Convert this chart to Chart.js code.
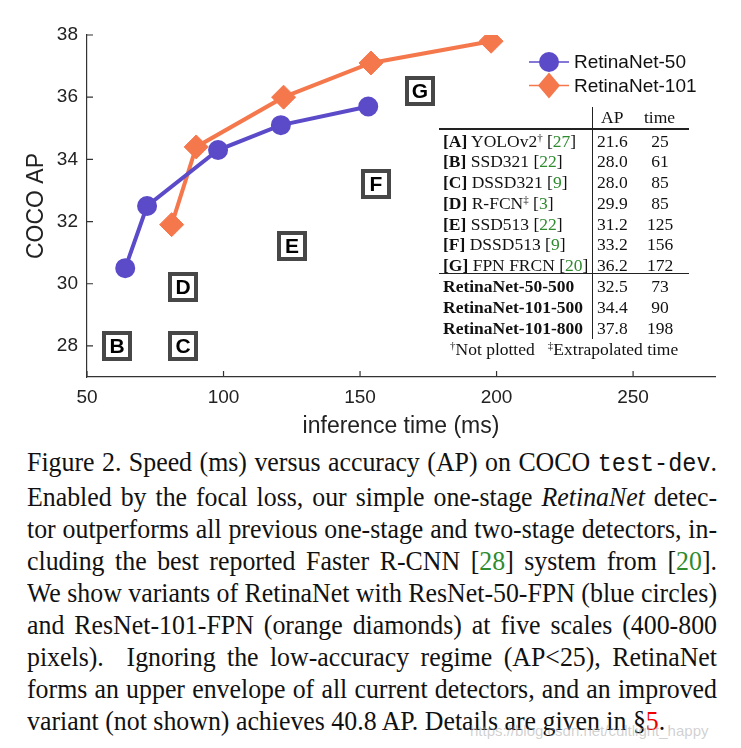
<!DOCTYPE html>
<html>
<head>
<meta charset="utf-8">
<script src="https://cdn.jsdelivr.net/npm/chart.js@4"></script>
<style>
body { margin: 0; background: #fff; width: 741px; height: 748px; overflow: hidden; position: relative; font-family: 'Liberation Serif', 'Times New Roman', serif; }
#wrap { position: absolute; left: 0; top: 0; width: 741px; height: 440px; }
.row { position: absolute; white-space: nowrap; font-size: 17.5px; line-height: 20px; color: #111; }
.ref { color: #2e8b2e; }
.vline { position: absolute; background: #222; }
#cap { position: absolute; left: 27px; top: 446px; font-size: 27.5px; line-height: 32px; color: #111; transform-origin: 0 0; }
#cap .ln { white-space: nowrap; }
#cap .just { text-align: justify; text-align-last: justify; }
#cap tt { font-family: 'Liberation Mono', monospace; font-size: 25px; }
#cap .g { color: #2e8b2e; }
#cap .r { color: #e00; }
#wm { position: absolute; left: 470px; top: 722px; font-family: 'Liberation Sans', sans-serif; font-size: 15px; color: rgba(170,170,170,0.55); }
</style>
</head>
<body>
<div id="wrap"><canvas id="myChart" width="741" height="440"></canvas></div>
<div id="tbl"></div>
<div id="cap">
  <div class="ln"><span>Figure 2. Speed (ms) versus accuracy (AP) on COCO <tt>test-dev</tt>.</span></div>
  <div class="ln"><span>Enabled by the focal loss, our simple one-stage <i>RetinaNet</i> detec-</span></div>
  <div class="ln"><span>tor outperforms all previous one-stage and two-stage detectors, in-</span></div>
  <div class="ln"><span>cluding the best reported Faster R-CNN [<span class="g">28</span>] system from [<span class="g">20</span>].</span></div>
  <div class="ln"><span>We show variants of RetinaNet with ResNet-50-FPN (blue circles)</span></div>
  <div class="ln"><span>and ResNet-101-FPN (orange diamonds) at five scales (400-800</span></div>
  <div class="ln"><span>pixels).&nbsp; Ignoring the low-accuracy regime (AP&lt;25), RetinaNet</span></div>
  <div class="ln"><span>forms an upper envelope of all current detectors, and an improved</span></div>
  <div class="ln"><span>variant (not shown) achieves 40.8 AP. Details are given in §<span class="r">5</span>.</span></div>
</div>
<div id="wm">https://blog.csdn.net/cultlight_happy</div>
<script>
// plotted series
const r50Time = [64, 72, 98, 121, 153];
const r50AP = [30.5, 32.5, 34.3, 35.1, 35.7];
const r101Time = [81, 90, 122, 154, 198];
const r101AP = [31.9, 34.4, 36.0, 37.1, 37.8];

// table of other detectors (A is not plotted)
const tableKeys = ['A', 'B', 'C', 'D', 'E', 'F', 'G'];
const tableNames = ['YOLOv2', 'SSD321', 'DSSD321', 'R-FCN', 'SSD513', 'DSSD513', 'FPN FRCN'];
const tableMarks = ['†', '', '', '‡', '', '', ''];
const tableRefs = ['27', '22', '9', '3', '22', '9', '20'];
const tableAP = [21.6, 28.0, 28.0, 29.9, 31.2, 33.2, 36.2];
const tableTime = [25, 61, 85, 85, 125, 156, 172];

const retinaNames = ['RetinaNet-50-500', 'RetinaNet-101-500', 'RetinaNet-101-800'];
const retinaAP = [32.5, 34.4, 37.8];
const retinaTime = [73, 90, 198];

const xTicks = [50, 100, 150, 200, 250];
const yTicks = [28, 30, 32, 34, 36, 38];

const blue = '#5b4bc8';
const orange = '#f5774c';

const toPts = (xs, ys) => xs.map((x, i) => ({ x: x, y: ys[i] }));
const plotted = tableKeys.map((k, i) => i).filter(i => tableMarks[i] !== '†');

// boxed letters for other detectors, inward tick marks, legend
const boxPlugin = {
    id: 'boxes',
    afterDatasetsDraw(chart) {
        const ctx = chart.ctx;
        const ds = chart.data.datasets[2];
        ctx.save();
        chart.getDatasetMeta(2).data.forEach((pt, i) => {
            const x = Math.round(pt.x), y = Math.round(pt.y);
            ctx.fillStyle = '#fff';
            ctx.fillRect(x - 15, y - 15, 30, 30);
            ctx.lineWidth = 4;
            ctx.strokeStyle = '#474747';
            ctx.strokeRect(x - 13, y - 13, 26, 26);
            ctx.fillStyle = '#000';
            ctx.font = 'bold 21px "Liberation Sans", Arial, sans-serif';
            ctx.textAlign = 'center';
            ctx.textBaseline = 'middle';
            ctx.fillText(ds.letters[i], x, y + 1);
        });
        ctx.restore();
    },
    afterDraw(chart) {
        const ctx = chart.ctx;
        const a = chart.chartArea;
        const xs = chart.scales.x, ys = chart.scales.y;
        ctx.save();
        ctx.strokeStyle = '#333';
        ctx.lineWidth = 1.2;
        ctx.beginPath();
        xTicks.forEach(v => {
            const px = xs.getPixelForValue(v);
            ctx.moveTo(px, a.bottom);
            ctx.lineTo(px, a.bottom - 6);
        });
        yTicks.forEach(v => {
            const py = ys.getPixelForValue(v);
            ctx.moveTo(a.left, py);
            ctx.lineTo(a.left + 6, py);
        });
        ctx.stroke();

        // legend with line through marker
        const lx = a.right - 186, tx = a.right - 141;
        [0, 1].forEach(i => {
            const d = chart.data.datasets[i];
            const ly = a.top + 27 + i * 23.5;
            ctx.strokeStyle = d.borderColor;
            ctx.lineWidth = 1.6;
            ctx.beginPath();
            ctx.moveTo(lx, ly);
            ctx.lineTo(lx + 40, ly);
            ctx.stroke();
            ctx.fillStyle = d.borderColor;
            ctx.beginPath();
            if (d.pointStyle === 'circle') {
                ctx.arc(lx + 20, ly, 10, 0, Math.PI * 2);
            } else {
                ctx.moveTo(lx + 20, ly - 13);
                ctx.lineTo(lx + 31, ly);
                ctx.lineTo(lx + 20, ly + 13);
                ctx.lineTo(lx + 9, ly);
                ctx.closePath();
            }
            ctx.fill();
            ctx.fillStyle = '#111';
            ctx.font = '19px "Liberation Sans", Arial, sans-serif';
            ctx.textAlign = 'left';
            ctx.textBaseline = 'middle';
            ctx.fillText(d.label, tx, ly + 1);
        });
        ctx.restore();
    }
};

const tickFont = { family: '"Liberation Sans", Arial, sans-serif', size: 19 };
const titleFont = { family: '"Liberation Sans", Arial, sans-serif', size: 23 };

const config = {
    type: 'scatter',
    data: {
        datasets: [{
            label: 'RetinaNet-50',
            data: toPts(r50Time, r50AP),
            showLine: true,
            borderColor: blue,
            backgroundColor: blue,
            borderWidth: 4,
            pointStyle: 'circle',
            pointRadius: 9,
            pointBorderWidth: 2
        }, {
            label: 'RetinaNet-101',
            data: toPts(r101Time, r101AP),
            showLine: true,
            borderColor: orange,
            backgroundColor: orange,
            borderWidth: 4,
            pointStyle: 'rectRot',
            pointRadius: 12,
            pointBorderWidth: 1
        }, {
            label: 'others',
            data: plotted.map(i => ({ x: tableTime[i], y: tableAP[i] })),
            letters: plotted.map(i => tableKeys[i]),
            pointRadius: 0,
            showLine: false
        }]
    },
    options: {
        responsive: false,
        animation: false,
        devicePixelRatio: 1,
        layout: { padding: { left: 0, right: 26, top: 35, bottom: 0 } },
        plugins: { legend: { display: false }, tooltip: { enabled: false } },
        scales: {
            x: {
                type: 'linear',
                min: 50,
                max: 280,
                grid: { display: false, drawTicks: false },
                border: { display: true, color: '#333', width: 1.2 },
                afterBuildTicks: s => { s.ticks = xTicks.map(v => ({ value: v })); },
                afterFit: s => { s.height = 63; },
                ticks: { color: '#222', font: tickFont, padding: 9, maxRotation: 0 },
                title: { display: true, text: 'inference time (ms)', color: '#222',
                    font: titleFont, padding: { top: 0, bottom: 0 } }
            },
            y: {
                min: 27,
                max: 38,
                grid: { display: false, drawTicks: false },
                border: { display: true, color: '#333', width: 1.2 },
                afterBuildTicks: s => { s.ticks = yTicks.map(v => ({ value: v })); },
                afterFit: s => { s.width = 87; },
                ticks: { color: '#222', font: tickFont, padding: 9 },
                title: { display: true, text: 'COCO AP', color: '#222',
                    font: titleFont, padding: { top: 23, bottom: 0 } }
            }
        }
    },
    plugins: [boxPlugin]
};

const myChart = new Chart(document.getElementById('myChart'), config);

// table on the right
const tbl = document.getElementById('tbl');
let html = '';
const sup = m => '<sup style="font-size:11px;vertical-align:6px;line-height:0">' + m + '</sup>';
const addRow = (left, top, content, extra) => {
    html += '<div class="row" style="left:' + left + 'px;top:' + (top - 10) + 'px;' + (extra || '') + '">' + content + '</div>';
};
addRow(601, 117, 'AP');
addRow(644, 117, 'time');
tableKeys.forEach((k, i) => {
    const y = 140.7 + i * 20.7;
    addRow(443, y, '<b>[' + k + ']</b> ' + tableNames[i] + (tableMarks[i] ? sup(tableMarks[i]) : '') + ' [<span class="ref">' + tableRefs[i] + '</span>]');
    addRow(597, y, tableAP[i].toFixed(1));
    addRow(630, y, tableTime[i], 'width:60px;text-align:center;');
});
retinaNames.forEach((n, i) => {
    const y = 286 + i * 20.8;
    addRow(443, y, '<b>' + n + '</b>');
    addRow(597, y, retinaAP[i].toFixed(1));
    addRow(630, y, retinaTime[i], 'width:60px;text-align:center;');
});
addRow(450, 349.3, sup('†') + 'Not plotted &nbsp;&nbsp;' + sup('‡') + 'Extrapolated time');
html += '<div class="vline" style="left:592px;top:107px;width:1.3px;height:232px"></div>';
html += '<div class="vline" style="left:439px;top:128.3px;width:250px;height:2.2px"></div>';
html += '<div class="vline" style="left:439px;top:272.6px;width:250px;height:1.3px"></div>';
tbl.innerHTML = html;

// fit caption lines: uniform horizontal squeeze, justified lines
const cap = document.getElementById('cap');
const lines = Array.from(cap.querySelectorAll('.ln'));
const widths = lines.map(l => l.firstElementChild.getBoundingClientRect().width);
let s = 647 / widths[widths.length - 1];
widths.slice(0, -1).forEach(w => { s = Math.min(s, 690 / w); });
cap.style.width = (690 / s) + 'px';
cap.style.transform = 'scaleX(' + s + ')';
lines.slice(0, -1).forEach(l => l.classList.add('just'));
</script>
</body>
</html>
